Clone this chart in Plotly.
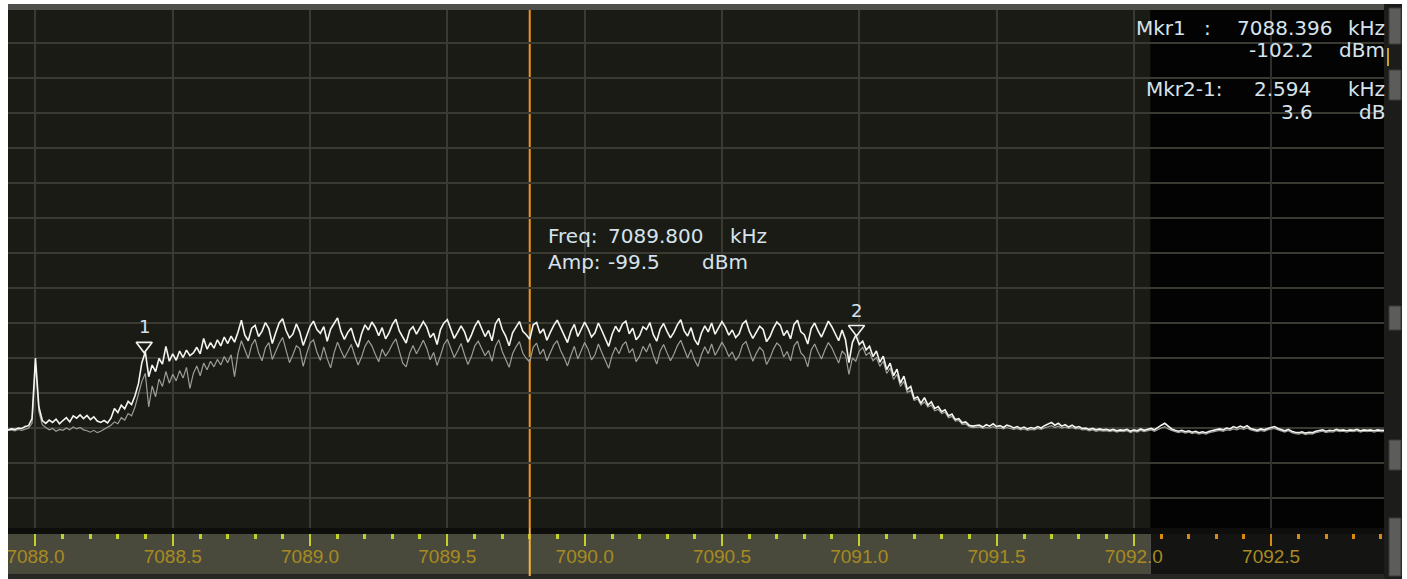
import plotly.graph_objects as go

# ---------------- data ----------------
F_START = 7087.9      # kHz, first sweep bin
F_STEP = 0.0125       # kHz per sweep bin

# bright (live) trace, dBm
TRACE_LIVE = [
    -118.9, -118.7, -118.8, -118.5, -118.6, -118.2, -118.0, -116.5, -103.5, -114.0, -116.9,
    -117.5, -116.8, -117.3, -116.6, -117.6, -116.9, -116.3, -117.2, -115.9, -116.4,
    -115.7, -116.5, -115.8, -116.7, -116.1, -117.0, -117.3, -116.9, -117.4, -116.4,
    -114.3, -115.2, -113.6, -114.4, -112.8, -113.5, -111.6, -109.0, -104.5, -102.2,
    -107.5, -105.0, -106.4, -103.6, -104.8, -101.0, -104.2, -102.6, -104.0, -102.0,
    -103.4, -101.8, -103.0, -102.4, -101.2, -102.6, -99.3, -101.6, -100.2, -101.4,
    -99.6, -100.9, -99.0, -100.4, -98.8, -100.1, -98.0,
    -95.4, -98.6, -99.8, -97.1, -96.5, -98.9, -97.8, -95.9, -97.2, -100.4,
    -98.1, -96.0, -95.1, -97.6, -99.2, -98.4, -96.2, -97.9, -100.8, -98.5,
    -96.7, -95.6, -97.4, -98.2, -96.8, -99.9, -97.3, -96.1, -94.9, -97.8,
    -99.5, -98.0, -97.1, -99.6, -101.2, -98.3, -96.4, -97.5, -95.8, -96.9,
    -98.7, -97.0, -99.4, -98.1, -96.3, -95.2, -97.7, -99.0, -100.3, -97.6,
    -96.8, -98.4, -97.2, -95.7, -96.9, -99.1, -98.2, -100.6, -97.4, -96.0,
    -95.3, -97.5, -99.3, -98.0, -96.6, -97.9, -100.1, -98.6, -96.7, -95.5,
    -97.1, -98.9, -97.6, -99.8, -96.2, -95.0, -97.4, -98.8, -100.9, -98.1,
    -96.9, -95.7, -97.8, -98.5, -99.5, -96.4, -95.9, -98.2, -97.3, -99.7,
    -98.0, -96.5, -95.4, -97.0, -98.6, -100.2, -97.7, -96.3, -98.9, -97.5,
    -95.8, -97.2, -99.0, -98.1, -96.0, -97.6, -99.4, -101.0, -98.4, -96.7,
    -97.9, -96.2, -95.6, -98.3, -97.1, -99.6, -98.7, -96.8, -97.4, -95.9,
    -98.5, -99.9, -97.3, -96.1, -97.8, -99.2, -98.0, -96.4, -95.3, -97.7,
    -98.8, -97.0, -99.5, -100.7, -98.2, -96.6, -97.9, -96.0, -98.4, -97.2,
    -95.7, -96.9, -98.6, -97.5, -99.1, -98.3, -96.2, -95.5, -97.8, -99.3,
    -98.0, -96.7, -97.4, -100.0, -98.9, -97.1, -95.8, -96.5, -98.7, -97.6,
    -99.4, -96.3, -95.4, -97.9, -98.5, -100.5, -97.2, -96.0, -97.7, -99.0,
    -97.3, -95.6, -96.8, -98.4, -99.8, -97.5,
    -99.6, -104.5, -100.2, -98.6,
    -100.6, -99.9, -101.8, -101.0, -103.2, -102.0, -104.4, -103.1, -106.0, -104.6,
    -107.3, -105.9, -108.9, -107.4, -110.2, -109.6, -112.2, -111.8, -113.2, -112.0,
    -113.6, -112.9, -114.3, -113.9, -115.0, -114.6, -115.9, -115.5, -116.7, -116.5,
    -117.4, -117.2, -117.9, -118.1,
    -118.0, -117.9, -118.3, -117.8, -118.1, -117.6, -118.2, -118.0, -118.4, -117.9,
    -118.1, -118.5, -118.2, -118.6, -118.3, -118.7, -118.4, -118.6, -118.2, -118.5,
    -118.0, -117.6, -117.3, -117.9, -117.5, -118.1, -117.8, -118.3, -117.9, -118.4,
    -118.2, -118.6, -118.5, -118.8, -118.6, -118.9, -118.7, -118.9, -118.8, -119.0,
    -118.8, -119.1, -118.9, -119.0, -118.8, -119.2, -118.9, -119.1, -118.7, -119.0,
    -118.8, -118.6, -118.9, -118.3, -117.9, -117.5, -118.2, -118.7, -119.0, -119.2,
    -119.0, -119.3, -119.1, -119.4, -119.2, -119.5, -119.3, -119.5, -119.2, -119.0,
    -118.9, -118.7, -118.9, -118.5, -118.7, -118.2, -118.5, -118.1, -118.4, -118.0,
    -118.6, -118.8, -119.0, -118.7, -118.9, -118.6, -118.4, -118.2, -118.6, -118.9,
    -119.1, -118.8, -119.2, -119.4, -119.5, -119.3, -119.6, -119.4, -119.5, -119.2,
    -119.1, -118.9, -119.2, -119.0, -119.1, -118.8, -119.0, -118.9, -119.1, -118.9,
    -119.0, -118.8, -119.1, -118.9, -119.0, -118.9, -119.1, -118.9, -119.0, -119.0,
]

# dim (second) trace, dBm
TRACE_AVG = [
    -119.0, -118.9, -119.1, -118.8, -119.0, -118.7, -118.5, -117.5, -104.8, -115.0, -117.8,
    -118.4, -118.9, -118.6, -119.2, -118.8, -119.0, -118.5, -118.9, -118.3, -118.7,
    -118.4, -118.9, -119.1, -119.4, -119.0, -119.5, -119.2, -118.8, -118.3, -117.9,
    -117.2, -117.6, -116.3, -116.8, -115.4, -115.9, -114.0,
    -111.0, -108.5, -106.8, -114.0, -109.5, -111.8, -108.0, -109.6, -106.4, -108.9,
    -107.0, -108.4, -106.2, -107.8, -105.5, -110.0, -106.8, -105.2, -107.3, -104.6,
    -106.0, -104.2, -105.4, -103.8, -105.0, -103.2, -104.5, -102.8, -107.5, -102.5,
    -99.8, -101.9, -103.6, -100.7, -99.5, -102.4, -104.1, -101.3, -100.2, -103.8,
    -102.0, -100.4, -99.1, -101.7, -104.5, -102.8, -100.9, -101.5, -105.3, -102.6,
    -100.3, -99.6, -102.2, -104.0, -101.1, -103.7, -105.6, -102.4, -100.1, -101.9,
    -103.5, -102.1, -100.6, -102.9, -105.0, -103.3, -101.0, -99.8, -100.9, -102.7,
    -104.3, -101.6, -103.1, -102.0, -100.5, -99.4, -101.8, -104.6, -105.4, -102.5,
    -100.8, -102.6, -101.2, -99.7, -101.4, -103.9, -102.3, -105.1, -103.0, -100.6,
    -99.5, -101.3, -103.4, -102.0, -100.4, -102.8, -104.9, -103.2, -100.9, -99.9,
    -101.5, -103.0, -101.9, -104.2, -101.0, -99.6, -102.1, -103.8, -105.5, -102.6,
    -101.1, -100.0, -102.5, -103.6, -104.4, -101.2, -100.3, -102.7, -101.6, -104.1,
    -102.4, -100.7, -99.8, -101.9, -103.4, -105.2, -102.9, -101.0, -103.7, -102.1,
    -100.2, -101.6, -103.9, -102.8, -100.5, -102.3, -104.0, -105.7, -102.9, -101.2,
    -102.6, -100.8, -100.0, -102.4, -101.5, -104.3, -103.1, -101.0, -102.2, -100.4,
    -102.9, -104.8, -102.0, -100.6, -102.4, -104.1, -102.7, -100.9, -99.7, -101.8,
    -103.5, -101.7, -103.9, -105.3, -102.8, -101.1, -102.6, -100.5, -102.9, -101.6,
    -100.1, -101.4, -103.2, -102.2, -104.0, -103.0, -100.7, -100.0, -102.3, -104.2,
    -102.5, -101.2, -102.0, -104.9, -103.5, -101.6, -100.3, -101.0, -103.3, -102.1,
    -104.1, -100.9, -99.9, -102.4, -103.2, -105.4, -101.8, -100.5, -102.2, -103.7,
    -101.8, -100.2, -101.3, -103.0, -104.6, -102.0,
    -102.8, -107.0, -103.5, -104.2,
    -102.0, -101.2, -102.9, -102.3, -104.1, -103.4, -105.3, -104.2, -106.8, -105.7,
    -108.1, -107.0, -109.6, -108.5, -110.9, -110.4, -112.6, -112.3, -113.6, -112.9,
    -114.0, -113.6, -114.8, -114.5, -115.4, -115.1, -116.3, -116.0, -117.0, -116.9,
    -117.7, -117.6, -118.2, -118.4,
    -118.4, -118.3, -118.6, -118.4, -118.5, -118.2, -118.6, -118.5, -118.7, -118.4,
    -118.6, -118.8, -118.6, -118.9, -118.7, -119.0, -118.8, -118.9, -118.6, -118.8,
    -118.5, -118.2, -118.0, -118.4, -118.1, -118.5, -118.3, -118.6, -118.4, -118.7,
    -118.6, -118.9, -118.8, -119.1, -118.9, -119.2, -119.0, -119.2, -119.1, -119.3,
    -119.1, -119.4, -119.2, -119.3, -119.1, -119.5, -119.2, -119.4, -119.0, -119.3,
    -119.1, -118.9, -119.2, -118.8, -118.5, -118.2, -118.7, -119.0, -119.3, -119.5,
    -119.3, -119.6, -119.4, -119.7, -119.5, -119.8, -119.6, -119.8, -119.5, -119.3,
    -119.2, -119.0, -119.2, -118.9, -119.0, -118.7, -118.9, -118.6, -118.8, -118.5,
    -118.9, -119.1, -119.3, -119.0, -119.2, -118.9, -118.8, -118.6, -118.9, -119.2,
    -119.4, -119.1, -119.5, -119.7, -119.8, -119.6, -119.9, -119.7, -119.8, -119.5,
    -119.4, -119.2, -119.5, -119.3, -119.4, -119.1, -119.3, -119.2, -119.4, -119.2,
    -119.3, -119.1, -119.4, -119.2, -119.3, -119.2, -119.4, -119.2, -119.3, -119.3,
]

MKR1_FREQ = 7088.396   # kHz
MKR1_AMP = -102.2      # dBm
MKR2_DFREQ = 2.594     # kHz
MKR2_DAMP = 3.6        # dB
CURSOR_FREQ = 7089.800 # kHz
CURSOR_AMP = -99.5     # dBm

X_MAJOR_IN = [7088.0, 7088.5, 7089.0, 7089.5, 7090.0, 7090.5, 7091.0, 7091.5, 7092.0]
X_MAJOR_OUT = [7092.5]
X_MINOR_IN = [7088.1, 7088.2, 7088.3, 7088.4, 7088.6, 7088.7, 7088.8, 7088.9,
              7089.1, 7089.2, 7089.3, 7089.4, 7089.6, 7089.7, 7089.8, 7089.9,
              7090.1, 7090.2, 7090.3, 7090.4, 7090.6, 7090.7, 7090.8, 7090.9,
              7091.1, 7091.2, 7091.3, 7091.4, 7091.6, 7091.7, 7091.8, 7091.9]
X_MINOR_OUT = [7092.1, 7092.2, 7092.3, 7092.4, 7092.6, 7092.7, 7092.8, 7092.9]
SPAN_END = 7092.06     # kHz, start of the out-of-span region

X_RANGE = [7087.9, 7092.911]
Y_RANGE = [-139.93, -28.5]

# ---------------- layout geometry (pixels) ----------------
FIG_W, FIG_H = 1407, 579
L, R, T, B = 6, 1384, 8, 528
W, H = R - L, B - T


def pxx(p):
    return (p - L) / W


def pxy(p):
    return (B - p) / H


def kx(f):
    return (f - X_RANGE[0]) / (X_RANGE[1] - X_RANGE[0])


TXT = "#d6e3ec"
GRID = "#3a3a33"
TICK_IN = "#c2d02c"
TICK_OUT = "#d88a12"
LABEL = "#a88b20"

freq_live = [F_START + F_STEP * i for i in range(len(TRACE_LIVE))]
freq_avg = [F_START + F_STEP * i for i in range(len(TRACE_AVG))]

mkr_f = [MKR1_FREQ, MKR1_FREQ + MKR2_DFREQ]
mkr_a = [MKR1_AMP, MKR1_AMP + MKR2_DAMP]

fig = go.Figure()
fig.add_trace(go.Scatter(x=freq_avg, y=TRACE_AVG, mode="lines",
                         line=dict(color="#9d9d98", width=1.2), hoverinfo="skip"))
fig.add_trace(go.Scatter(x=freq_live, y=TRACE_LIVE, mode="lines",
                         line=dict(color="#f4f4f2", width=1.6), hoverinfo="skip"))
fig.add_trace(go.Scatter(x=mkr_f, y=[a + 1.3 for a in mkr_a], mode="markers",
                         marker=dict(symbol="triangle-down-open", size=14, color="#f2f2f2",
                                     line=dict(width=1.6, color="#f2f2f2")),
                         hoverinfo="skip"))
fig.add_trace(go.Scatter(x=[], y=[], xaxis="x2", showlegend=False))

shapes = []
# out-of-span black region in plot
shapes.append(dict(type="rect", xref="paper", yref="paper", x0=kx(SPAN_END), x1=1, y0=0, y1=1,
                   fillcolor="#030303", line_width=0, layer="below"))
# axis band
shapes.append(dict(type="rect", xref="paper", yref="paper", x0=0, x1=kx(SPAN_END),
                   y0=pxy(574), y1=pxy(531), fillcolor="#4a4a3c", line_width=0, layer="below"))
shapes.append(dict(type="rect", xref="paper", yref="paper", x0=kx(SPAN_END), x1=1,
                   y0=pxy(574), y1=pxy(531), fillcolor="#141413", line_width=0, layer="below"))
shapes.append(dict(type="rect", xref="paper", yref="paper", x0=0, x1=pxx(1402),
                   y0=pxy(579), y1=pxy(574), fillcolor="#262624", line_width=0, layer="below"))
# cursor line in plot
shapes.append(dict(type="line", xref="x", yref="paper", x0=CURSOR_FREQ, x1=CURSOR_FREQ, y0=0, y1=1,
                   line=dict(color="#ee9620", width=2), layer="below"))
# separator strip between plot and band (covers tick roots)
shapes.append(dict(type="rect", xref="paper", yref="paper", x0=0, x1=1,
                   y0=pxy(534), y1=pxy(528), fillcolor="#0e0e0c", line_width=0, layer="above"))
# cursor line in band
shapes.append(dict(type="line", xref="paper", yref="paper", x0=kx(CURSOR_FREQ), x1=kx(CURSOR_FREQ),
                   y0=pxy(576), y1=pxy(528), line=dict(color="#f4b23c", width=2), layer="above"))
# top frame
shapes.append(dict(type="rect", xref="paper", yref="paper", x0=0, x1=pxx(1402),
                   y0=pxy(10), y1=pxy(4), fillcolor="#4e4e4a", line_width=0, layer="above"))
# left white strip
shapes.append(dict(type="rect", xref="paper", yref="paper", x0=pxx(0), x1=0,
                   y0=pxy(579), y1=pxy(0), fillcolor="#ffffff", line_width=0, layer="above"))
# right side scroll column
shapes.append(dict(type="rect", xref="paper", yref="paper", x0=1, x1=pxx(1402),
                   y0=pxy(579), y1=pxy(4), fillcolor="#1c1c1b", line_width=0, layer="above"))
for y0, y1 in [(8, 44), (70, 100), (306, 330), (440, 470), (518, 576)]:
    shapes.append(dict(type="rect", xref="paper", yref="paper", x0=pxx(1389), x1=pxx(1401),
                       y0=pxy(y1), y1=pxy(y0), fillcolor="#5c5c5a",
                       line=dict(color="#3a3a38", width=1), layer="above"))
shapes.append(dict(type="rect", xref="paper", yref="paper", x0=pxx(1387), x1=pxx(1389),
                   y0=pxy(66), y1=pxy(48), fillcolor="#c9a020", line_width=0, layer="above"))

annotations = []


def txt(text, px, py, anchor="left", size=20):
    annotations.append(dict(text=text, x=pxx(px), y=pxy(py), xref="paper", yref="paper",
                            xanchor=anchor, yanchor="middle", showarrow=False, borderpad=0,
                            font=dict(family="DejaVu Sans", size=size, color=TXT)))


# marker readout (top right)
txt("Mkr1", 1135, 28)
txt(":", 1207, 28, "center")
txt(f"{MKR1_FREQ:.3f}", 1333, 28, "right")
txt("kHz", 1386, 28, "right")
txt(f"{MKR1_AMP:.1f}", 1314, 50, "right")
txt("dBm", 1386, 50, "right")
txt("Mkr2-1:", 1223, 89, "right")
txt(f"{MKR2_DFREQ:.3f}", 1312, 89, "right")
txt("kHz", 1386, 89, "right")
txt(f"{MKR2_DAMP:.1f}", 1314, 112, "right")
txt("dB", 1386, 112, "right")
# cursor readout
txt("Freq:", 546, 236)
txt(f"{CURSOR_FREQ:.3f}", 606, 236)
txt("kHz", 728, 236)
txt("Amp:", 546, 262)
txt(f"{CURSOR_AMP:.1f}", 606, 262)
txt("dBm", 700, 262)

# marker numbers
for n, (f, a) in enumerate(zip(mkr_f, mkr_a), start=1):
    annotations.append(dict(text=str(n), x=f, y=a, xref="x", yref="y", showarrow=False,
                            yshift=25, xanchor="center", yanchor="middle",
                            font=dict(family="DejaVu Sans", size=18, color=TXT)))

fig.update_layout(
    width=FIG_W, height=FIG_H,
    margin=dict(l=L, r=FIG_W - R, t=T, b=FIG_H - B, pad=0),
    paper_bgcolor="#ffffff",
    plot_bgcolor="#1b1b16",
    showlegend=False,
    hovermode=False,
    shapes=shapes,
    annotations=annotations,
    xaxis=dict(range=X_RANGE, tickmode="array", tickvals=X_MAJOR_IN,
               ticktext=[f"{v:.1f}" for v in X_MAJOR_IN],
               ticks="outside", ticklen=17, tickwidth=2, tickcolor=TICK_IN,
               ticklabelstandoff=-6,
               showgrid=True, gridcolor=GRID, gridwidth=1.5,
               zeroline=False, showline=False,
               tickfont=dict(family="Liberation Sans", size=19, color=LABEL),
               minor=dict(tickmode="array", tickvals=X_MINOR_IN, ticks="outside",
                          ticklen=10, tickwidth=2.5, tickcolor=TICK_IN, showgrid=False)),
    xaxis2=dict(range=X_RANGE, overlaying="x", anchor="y", side="bottom",
                tickmode="array", tickvals=X_MAJOR_OUT,
                ticktext=[f"{v:.1f}" for v in X_MAJOR_OUT],
                ticks="outside", ticklen=17, tickwidth=2, tickcolor=TICK_OUT,
                ticklabelstandoff=-6,
                showgrid=True, gridcolor="#2e2e2b", gridwidth=1.5,
                zeroline=False, showline=False,
                tickfont=dict(family="Liberation Sans", size=19, color=LABEL),
                minor=dict(tickmode="array", tickvals=X_MINOR_OUT, ticks="outside",
                           ticklen=10, tickwidth=2.5, tickcolor=TICK_OUT, showgrid=False)),
    yaxis=dict(range=Y_RANGE, tickmode="linear", tick0=-103.5, dtick=7.5,
               showticklabels=False, ticks="", showgrid=True, gridcolor=GRID, gridwidth=1.5,
               zeroline=False, showline=False),
)

fig.write_html("out.html")
